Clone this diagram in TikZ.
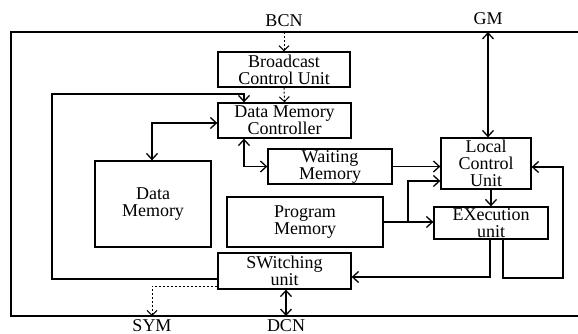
\documentclass[tikz,border=0pt]{standalone}
\usepackage{fontspec}
\setmainfont{Liberation Serif}
\usetikzlibrary{arrows.meta}
\begin{document}
\begin{tikzpicture}[x=1pt,y=-1pt,
  box/.style={draw,line width=1.3pt,rectangle,inner sep=0pt,align=center,font=\fontsize{18}{17}\selectfont},
  lbl/.style={font=\fontsize{18}{17}\selectfont,inner sep=0pt},
  conn/.style={line width=1.3pt},
  arr/.style={conn,-{Straight Barb[length=6pt,width=11pt]}},
  darr/.style={conn,{Straight Barb[length=6pt,width=11pt]}-{Straight Barb[length=6pt,width=11pt]}},
  dotarr/.style={line width=1pt,dash pattern=on 2pt off 2pt,-{Straight Barb[length=5pt,width=10pt]}},
  frame/.style={line width=2.2pt}]
\useasboundingbox (0,0) rectangle (578,334);
% outer frame
\coordinate (ft) at (0,32);
\coordinate (fb) at (0,316);
\draw[frame] (578,32) -- (11,32) -- (11,316) -- (578,316);
% labels
\node[lbl,anchor=base] (bcn) at (284,27) {BCN};
\node[lbl,anchor=base] (gm) at (488,25) {GM};
\node[lbl,anchor=base] (sym) at (152,331) {SYM};
\node[lbl,anchor=base] (dcn) at (286,331) {DCN};
% boxes
\node[box,minimum width=132pt,minimum height=35pt] (bcu) at (284,69.5) {Broadcast\\Control Unit};
\node[box,minimum width=133pt,minimum height=35pt] (dmc) at (284.5,120.5) {Data Memory\\Controller};
\node[box,minimum width=116pt,minimum height=86pt] (dm) at (153,204) {Data\\Memory};
\node[box,minimum width=124pt,minimum height=35pt] (wm) at (330,166.5) {Waiting\\Memory};
\node[box,minimum width=90pt,minimum height=51pt] (lcu) at (486,163.5) {Local\\Control\\Unit};
\node[box,minimum width=156pt,minimum height=50pt] (pm) at (305,222) {Program\\Memory};
\node[box,minimum width=114pt,minimum height=32pt] (ex) at (491,223) {EXecution\\unit};
\node[box,minimum width=133pt,minimum height=36pt] (sw) at (284.5,271) {SWitching\\unit};
% connectors
\draw[dotarr] (bcu.north |- ft) -- (bcu.north);
\draw[dotarr] (bcu.south) -- (dmc.north);
\draw[arr] (sw.west |- 0,279) -- (52,279) -- (52,94) -| (dmc.north -| 244,0);
\draw[darr] (dmc.west |- 0,123) -| (152,0 |- dm.north);
\draw[darr] (244,0 |- dmc.south) |- (wm.west);
\draw[darr] (488,0 |- ft) -- (488,0 |- lcu.north);
\draw[arr] (wm.east) -- (wm.east -| lcu.west);
\draw[arr] (pm.east) -- (pm.east -| ex.west);
\draw[arr] (408,0 |- pm.east) |- (lcu.west |- 0,181);
\draw[arr] (491,0 |- lcu.south) -- (491,0 |- ex.north);
\draw[arr] (490,0 |- ex.south) |- (sw.east |- 0,277);
\draw[arr] (503,0 |- ex.south) -- (503,278) -| (563,167) -- (lcu.east |- 0,167);
\draw[dotarr] (sw.west |- 0,286) -| (152,0 |- fb);
\draw[darr] (286,0 |- sw.south) -- (286,0 |- fb);
\end{tikzpicture}
\end{document}
